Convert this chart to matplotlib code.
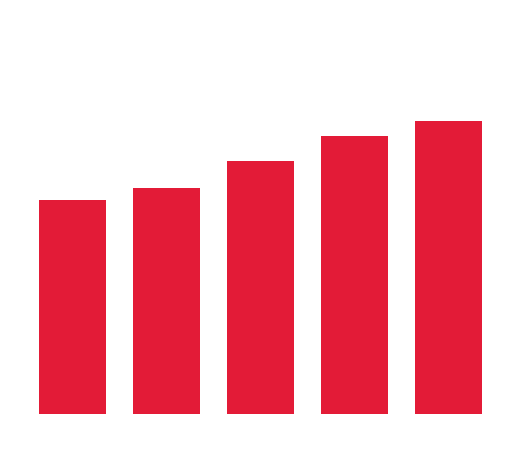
import matplotlib
matplotlib.use('Agg')
import matplotlib.pyplot as plt

# bar heights (no axis shown, so units are arbitrary)
categories = ['A', 'B', 'C', 'D', 'E']
values = [214, 226, 253, 278, 293]

fig = plt.figure(figsize=(5.2, 4.5), dpi=100)
ax = fig.add_axes([0, 0, 1, 1])
ax.bar(range(len(categories)), values, width=0.713, color='#E31B37')
ax.set_xlim(-0.771, 4.761)
ax.set_ylim(-36.5, 413.5)
ax.axis('off')
fig.savefig('out.png', dpi=100, facecolor='white')
